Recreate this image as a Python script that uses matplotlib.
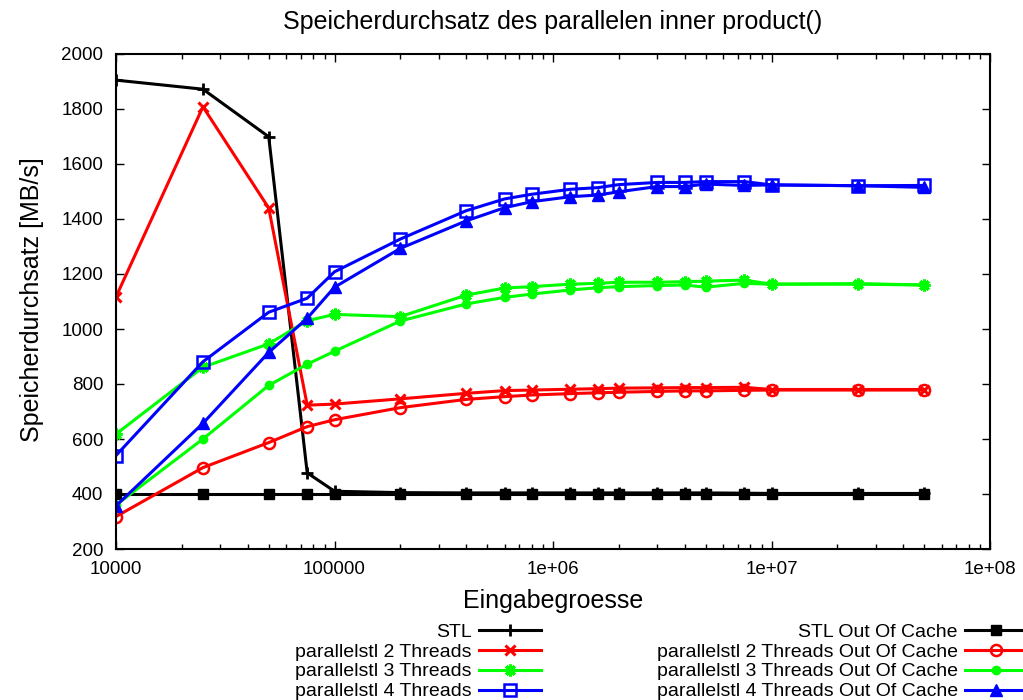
import matplotlib
matplotlib.use("Agg")
import matplotlib.pyplot as plt
from matplotlib.ticker import FixedLocator, FixedFormatter, LogLocator, NullFormatter

plt.rcParams['font.family'] = ['Liberation Sans', 'DejaVu Sans']

# Eingabegroesse
n = [10000, 25000, 50000, 75000, 100000, 200000, 400000, 600000, 800000,
     1200000, 1600000, 2000000, 3000000, 4000000, 5000000, 7500000,
     10000000, 25000000, 50000000]

stl = [1905, 1872, 1699, 477, 410, 405, 404, 404, 404, 404, 404, 404, 404,
       404, 404, 403, 402, 402, 402]
par2 = [1117, 1808, 1440, 723, 727, 746, 766, 776, 778, 781, 783, 785, 786,
        787, 787, 788, 780, 780, 780]
par3 = [618, 861, 946, 1030, 1053, 1045, 1123, 1149, 1154, 1163, 1166, 1170,
        1170, 1172, 1174, 1178, 1163, 1163, 1160]
par4 = [540, 881, 1061, 1112, 1208, 1327, 1430, 1473, 1490, 1508, 1514, 1525,
        1533, 1533, 1536, 1536, 1524, 1521, 1522]
stl_ooc = [400, 400, 400, 400, 400, 400, 400, 400, 400, 400, 400, 400, 400,
           400, 400, 400, 400, 400, 400]
par2_ooc = [318, 496, 587, 645, 670, 714, 744, 754, 760, 765, 768, 770, 773,
            775, 775, 777, 778, 778, 778]
par3_ooc = [360, 600, 795, 872, 919, 1029, 1091, 1115, 1127, 1142, 1150, 1154,
            1158, 1160, 1152, 1166, 1163, 1165, 1160]
par4_ooc = [357, 657, 915, 1039, 1152, 1293, 1393, 1441, 1463, 1481, 1487,
            1499, 1518, 1518, 1527, 1522, 1524, 1521, 1515]

xticks = [1e4, 1e5, 1e6, 1e7, 1e8]
xticklabels = ['10000', '100000', '1e+06', '1e+07', '1e+08']

W, H = 1023, 700
fig = plt.figure(figsize=(W / 100, H / 100), dpi=100)
ax = fig.add_axes([116 / W, 1 - 549 / H, (990 - 116) / W, (549 - 54) / H])

lw = 2.2
series = [
    ("STL", stl, dict(color='black', marker='+', ms=8, mew=2)),
    ("parallelstl 2 Threads", par2, dict(color='red', marker='x', ms=7, mew=2.2)),
    ("parallelstl 3 Threads", par3, dict(color='#00ff00', marker=(8, 2, 0), ms=8.5, mew=2.2)),
    ("parallelstl 4 Threads", par4, dict(color='blue', marker='s', ms=8, mew=1.8, mfc='none')),
    ("STL Out Of Cache", stl_ooc, dict(color='black', marker='s', ms=6.5)),
    ("parallelstl 2 Threads Out Of Cache", par2_ooc, dict(color='red', marker='o', ms=8, mew=1.8, mfc='none')),
    ("parallelstl 3 Threads Out Of Cache", par3_ooc, dict(color='#00ff00', marker='o', ms=6)),
    ("parallelstl 4 Threads Out Of Cache", par4_ooc, dict(color='blue', marker='^', ms=9)),
]
handles = []
for label, ys, style in series:
    h, = ax.plot(n, ys, lw=lw, label=label, **style)
    handles.append(h)

ax.set_xscale('log')
ax.set_xlim(1e4, 1e8)
ax.set_ylim(200, 2000)
ax.xaxis.set_major_locator(FixedLocator(xticks))
ax.xaxis.set_major_formatter(FixedFormatter(xticklabels))
ax.xaxis.set_minor_locator(LogLocator(base=10, subs=range(2, 10)))
ax.xaxis.set_minor_formatter(NullFormatter())
ax.set_yticks(range(200, 2001, 200))

ax.tick_params(which='both', direction='in', top=True, right=True,
               labelsize=13.5, pad=9, width=1)
ax.tick_params(which='major', length=6)
ax.tick_params(which='minor', length=3.5)
for s in ax.spines.values():
    s.set_linewidth(1.5)

fig.text(553 / W, 1 - 22 / H, "Speicherdurchsatz des parallelen inner product()",
         ha='center', va='center', fontsize=18)
fig.text(553 / W, 1 - 601 / H, "Eingabegroesse", ha='center', va='center', fontsize=18)
fig.text(32 / W, 1 - 300 / H, "Speicherdurchsatz [MB/s]", ha='center', va='center',
         rotation=90, fontsize=18)

leg_kw = dict(loc='upper right', frameon=False, markerfirst=False, fontsize=14,
              handlelength=3.2, handletextpad=0.35, labelspacing=0.12,
              borderpad=0, borderaxespad=0)
fig.legend(handles=handles[:4], bbox_to_anchor=(541 / W, 1 - 623 / H), **leg_kw)
fig.legend(handles=handles[4:], bbox_to_anchor=(1027 / W, 1 - 623 / H), **leg_kw)

fig.savefig("out.png", dpi=100)
